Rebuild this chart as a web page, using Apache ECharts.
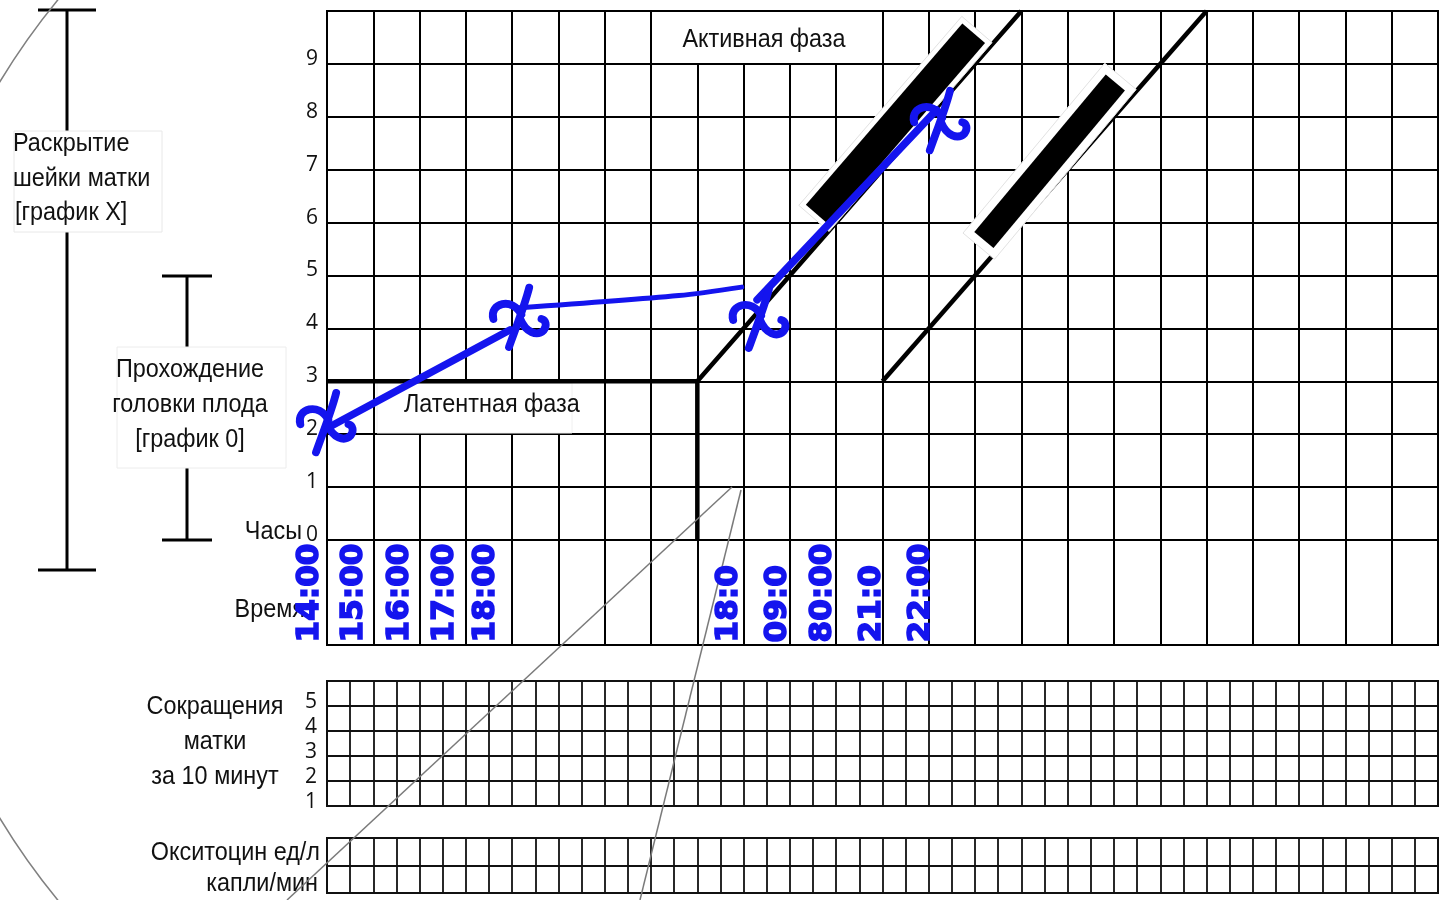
<!DOCTYPE html>
<html><head><meta charset="utf-8">
<script src="https://cdn.jsdelivr.net/npm/echarts@6/dist/echarts.min.js"></script>
<style>html,body{margin:0;padding:0;background:#fff}#c{width:1441px;height:900px}</style>
</head><body><div id="c"></div><script>
// ---------- data ----------
const dilationTicks = [0,1,2,3,4,5,6,7,8,9];
const contractionTicks = [1,2,3,4,5];
const hourColumns = 24;
const contractionColumns = 48;
const oxytocinRows = 2;
const alertLine = [[0,3],[8,3],[15,10]];
const latentEnd = [[8,3],[8,0]];
const actionLine = [[12,3],[19,10]];
const dilationSeg1 = [[0.06,2.14],[3.95,3.97]];
const dilationSeg2 = [[4.17,4.39],[7.6,4.62],[8.96,4.78]];
const dilationSeg3 = [[9.29,4.54],[13.17,8.13]];
const dilationMarks = [[-0.02,2.23],[4.15,4.22],[9.33,4.20],[13.24,7.94]];
const timeLabels = ['14:00','15:00','16:00','17:00','18:00','18:0','09:0','80:00','21:0','22:00'];
const timeLabelCols = [-0.37,0.58,1.57,2.54,3.43,8.68,9.74,10.71,11.77,12.82];
const redactFrom = [[10.59,6.15],[14.19,5.67]];
const redactTo = [[13.97,9.58],[17.03,8.65]];

// ---------- styles ----------
const BLUE = '#1414ee';
const FONT = '"Liberation Sans", Arial, sans-serif';
const NUMFONT = '"Open Sans", sans-serif';
const gridLine = {show:true, lineStyle:{color:'#000', width:2}};
const thinGrid = {show:true, lineStyle:{color:'#111', width:1.8}};

function xAx(grid, max, split){
  return {type:'value', gridIndex:grid, min:0, max:max, interval:1,
    axisLine:{show:false}, axisTick:{show:false}, axisLabel:{show:false}, splitLine:split};
}

function renderX(params, api){
  const p = api.coord([api.value(0), api.value(1)]);
  const st = {stroke:BLUE, lineWidth:7, fill:'none', lineCap:'round', lineJoin:'round'};
  return {type:'group', x:p[0], y:p[1], scaleX:1.12, scaleY:1.12, children:[
    {type:'path', shape:{pathData:'M 9 -26 C 5 -10 -3 10 -9 27'}, style:st},
    {type:'path', shape:{pathData:'M -23 2 C -27 -12 -6 -18 2 -2'}, style:st},
    {type:'path', shape:{pathData:'M 1 2 C 6 14 16 18 22 12 C 25 8 24 3 20 2'}, style:st}
  ]};
}

function renderTime(params, api){
  const p = api.coord([api.value(0), 0.05]);
  return {type:'text', x:p[0], y:p[1], rotation:Math.PI/2,
    style:{text:timeLabels[params.dataIndex], fill:BLUE, stroke:BLUE, lineWidth:1.6,
      font:'bold 31px "DejaVu Sans", sans-serif', align:'left', verticalAlign:'middle'}};
}

function renderRedact(params, api){
  const a = api.coord([api.value(0), api.value(1)]);
  const b = api.coord([api.value(2), api.value(3)]);
  const w = params.dataIndex === 0 ? 30 : 25;
  const e = params.dataIndex === 0 ? 5 : 8;
  const dx = b[0]-a[0], dy = b[1]-a[1], L = Math.hypot(dx,dy);
  const ux = dx/L, uy = dy/L, vx = -uy, vy = ux;
  const cx = (a[0]+b[0])/2, cy = (a[1]+b[1])/2;
  function poly(hl, hw){
    return [[cx-ux*hl-vx*hw, cy-uy*hl-vy*hw],[cx+ux*hl-vx*hw, cy+uy*hl-vy*hw],
            [cx+ux*hl+vx*hw, cy+uy*hl+vy*hw],[cx-ux*hl+vx*hw, cy-uy*hl+vy*hw]];
  }
  return {type:'group', children:[
    {type:'polygon', shape:{points:poly(L/2+e, w/2+e)}, style:{fill:'#fff', stroke:'#e2e2e2', lineWidth:1}},
    {type:'polygon', shape:{points:poly(L/2, w/2)}, style:{fill:'#000'}}
  ]};
}

const chart = echarts.init(document.getElementById('c'), null, {renderer:'canvas'});
const txt = (x,y,text,align,size,z) => ({type:'text', x:x, y:y, z:z||8, scaleX:0.9,
  style:{text:text, fill:'#111', font:(size||26)+'px '+FONT, align:align||'left', verticalAlign:'middle'}});
const line = (x1,y1,x2,y2,w,c,z) => ({type:'line', z:z||5, shape:{x1,y1,x2,y2}, style:{stroke:c||'#000', lineWidth:w||3}});

chart.setOption({
  animation:false,
  backgroundColor:'#fff',
  grid:[
    {left:327, top:11, width:1111, height:529, show:true, borderColor:'#000', borderWidth:2},
    {left:327, top:540, width:1111, height:105, show:true, borderColor:'#000', borderWidth:2},
    {left:327, top:681, width:1111, height:125, show:true, borderColor:'#111', borderWidth:2},
    {left:327, top:838, width:1111, height:55, show:true, borderColor:'#111', borderWidth:2}
  ],
  xAxis:[
    xAx(0, hourColumns, gridLine),
    xAx(1, hourColumns, gridLine),
    xAx(2, contractionColumns, thinGrid),
    xAx(3, contractionColumns, thinGrid)
  ],
  yAxis:[
    {type:'value', gridIndex:0, min:0, max:10, interval:1,
      axisLine:{show:false}, axisTick:{show:false}, splitLine:gridLine,
      axisLabel:{show:true, color:'#111', fontSize:21, fontFamily:NUMFONT, margin:9,
        verticalAlign:'bottom', lineHeight:10,
        formatter:v => dilationTicks.includes(v) ? String(v) : ''}},
    {type:'value', gridIndex:1, min:0, max:2, interval:1,
      axisLine:{show:false}, axisTick:{show:false}, splitLine:{show:false}, axisLabel:{show:false}},
    {type:'value', gridIndex:2, min:0, max:5, interval:1,
      axisLine:{show:false}, axisTick:{show:false}, splitLine:thinGrid,
      axisLabel:{show:true, color:'#111', fontSize:21, fontFamily:NUMFONT, margin:10,
        verticalAlign:'bottom', lineHeight:8,
        formatter:v => contractionTicks[v] !== undefined ? String(contractionTicks[v]) : ''}},
    {type:'value', gridIndex:3, min:0, max:oxytocinRows, interval:1,
      axisLine:{show:false}, axisTick:{show:false}, splitLine:thinGrid, axisLabel:{show:false}}
  ],
  graphic:[
    // left bracket: cervical dilatation
    line(67,10,67,570,3), line(38,10,96,10,3), line(38,570,96,570,3),
    {type:'rect', z:7, shape:{x:14,y:131,width:148,height:101}, style:{fill:'#fff', stroke:'#e8e8e8', lineWidth:1}},
    txt(13,144,'Раскрытие'), txt(13,179,'шейки матки'), txt(15,213,'[график X]'),
    // bracket: descent of head
    line(187,276,187,540,3), line(162,276,212,276,3), line(162,540,212,540,3),
    {type:'rect', z:7, shape:{x:117,y:347,width:169,height:121}, style:{fill:'#fff', stroke:'#ececec', lineWidth:1}},
    txt(190,370,'Прохождение','center'), txt(190,405,'головки плода','center'), txt(190,440,'[график 0]','center'),
    txt(302,532,'Часы','right'),
    txt(305,610,'Время','right'),
    txt(215,707,'Сокращения','center'), txt(215,742,'матки','center'), txt(215,777,'за 10 минут','center'),
    txt(320,853,'Окситоцин ед/л','right'), txt(318,884,'капли/мин','right'),
    // phase labels
    {type:'rect', z:3, shape:{x:653,y:12,width:193,height:51}, style:{fill:'#fff'}},
    txt(764,40,'Активная фаза','center'),
    {type:'rect', z:3, shape:{x:377,y:383,width:195,height:50}, style:{fill:'#fff', stroke:'#f0f0f0', lineWidth:1}},
    txt(404,405,'Латентная фаза','left'),
    // magnifier callout
    line(732,487,287,900,1.5,'#7a7a7a',9), line(741,490,640,900,1.5,'#7a7a7a',9),
    {type:'arc', z:9, shape:{cx:607, cy:450, r:710, startAngle:2.35, endAngle:3.95, clockwise:true},
      style:{stroke:'#808080', lineWidth:1.5, fill:'none'}}
  ],
  series:[
    {type:'line', xAxisIndex:0, yAxisIndex:0, data:alertLine, symbol:'none', clip:false, z:5,
      lineStyle:{color:'#000', width:4.5}},
    {type:'line', xAxisIndex:0, yAxisIndex:0, data:latentEnd, symbol:'none', clip:false, z:5,
      lineStyle:{color:'#000', width:4.5}},
    {type:'line', xAxisIndex:0, yAxisIndex:0, data:actionLine, symbol:'none', clip:false, z:5,
      lineStyle:{color:'#000', width:4.5}},
    {type:'custom', xAxisIndex:0, yAxisIndex:0, z:6, renderItem:renderRedact,
      data:redactFrom.map((f,i) => [f[0], f[1], redactTo[i][0], redactTo[i][1]])},
    {type:'line', xAxisIndex:0, yAxisIndex:0, data:dilationSeg1, symbol:'none', clip:false, z:10,
      lineStyle:{color:BLUE, width:7.5, cap:'round'}},
    {type:'line', xAxisIndex:0, yAxisIndex:0, data:dilationSeg2, symbol:'none', clip:false, z:10, smooth:0.3,
      lineStyle:{color:BLUE, width:5, cap:'round'}},
    {type:'line', xAxisIndex:0, yAxisIndex:0, data:dilationSeg3, symbol:'none', clip:false, z:10,
      lineStyle:{color:BLUE, width:7.5, cap:'round'}},
    {type:'custom', xAxisIndex:0, yAxisIndex:0, z:11, renderItem:renderX, data:dilationMarks},
    {type:'custom', xAxisIndex:1, yAxisIndex:1, z:11, renderItem:renderTime,
      data:timeLabelCols.map(c => [c, 0.05])}
  ]
});
</script></body></html>
